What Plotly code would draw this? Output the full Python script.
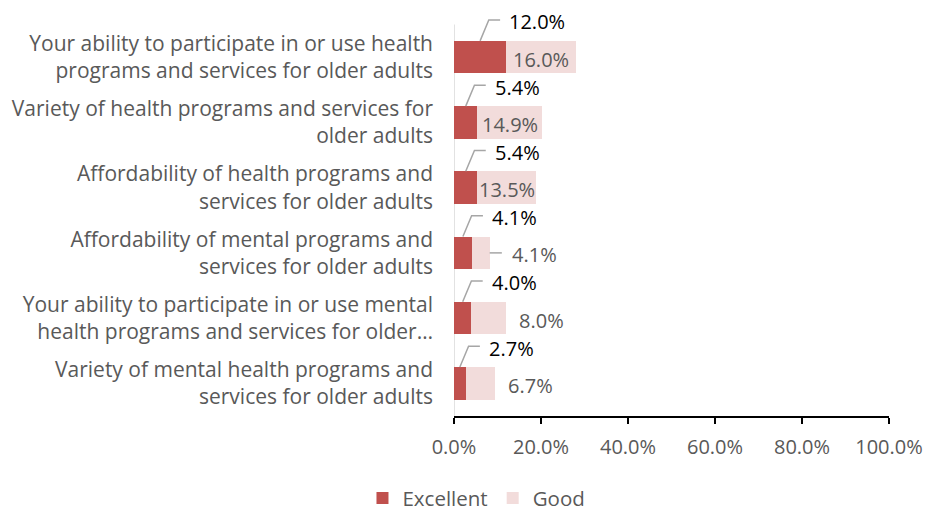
import plotly.graph_objects as go

# Survey items, listed top to bottom as they appear on the chart
categories = [
    "Your ability to participate in or use health<br>programs and services for older adults",
    "Variety of health programs and services for<br>older adults",
    "Affordability of health programs and<br>services for older adults",
    "Affordability of mental programs and<br>services for older adults",
    "Your ability to participate in or use mental<br>health programs and services for older…",
    "Variety of mental health programs and<br>services for older adults",
]
excellent = [12.0, 5.4, 5.4, 4.1, 4.0, 2.7]
good = [16.0, 14.9, 13.5, 4.1, 8.0, 6.7]
x_ticks = [0, 20, 40, 60, 80, 100]
x_tick_labels = ["0.0%", "20.0%", "40.0%", "60.0%", "80.0%", "100.0%"]

RED = "#C0504D"
PINK = "#F2DCDB"
GREY_TEXT = "#595959"
LEADER = "#A6A6A6"
FONT = "Open Sans"

rows = list(range(len(categories)))
BAR_W = 0.5
# extra headroom above the first row for its callout label
Y_TOP = -0.876

fig = go.Figure()
fig.add_trace(go.Bar(
    name="Excellent", y=rows, x=excellent, orientation="h",
    marker=dict(color=RED, line=dict(width=0)), width=BAR_W,
    hoverinfo="x",
))
fig.add_trace(go.Bar(
    name="Good", y=rows, x=good, orientation="h",
    marker=dict(color=PINK, line=dict(width=0)), width=BAR_W,
    hoverinfo="x",
))

# vertical category axis line, spanning only the category rows
shapes = [dict(
    type="line", xref="x", yref="y", x0=0, x1=0,
    y0=-0.5, y1=len(categories) - 0.5,
    line=dict(color="#D9D9D9", width=1.5), layer="below",
)]
annotations = []
for i, (e, g) in enumerate(zip(excellent, good)):
    # Excellent value: callout above the bar with an elbow leader line
    top = i - BAR_W / 2
    elbow_y = i - 0.57
    x0 = e / 2
    shapes.append(dict(
        type="path", xref="x", yref="y",
        path=f"M {x0},{top} L {x0 + 2},{elbow_y} L {x0 + 4.6},{elbow_y}",
        line=dict(color=LEADER, width=1.5),
    ))
    annotations.append(dict(
        x=x0 + 6.2, y=elbow_y + 0.03, xref="x", yref="y",
        text=f"{e:.1f}%", showarrow=False, xanchor="left", yanchor="middle",
        font=dict(family=FONT, size=20, color="#000000"),
    ))
    # Good value: centred in the segment when it fits, otherwise just past it
    end = e + g
    if g >= 10:
        gx, anchor = e + g / 2, "center"
    elif g < 5:
        shapes.append(dict(
            type="line", xref="x", yref="y",
            x0=end, x1=end + 2.8, y0=i, y1=i,
            line=dict(color=LEADER, width=1.5),
        ))
        gx, anchor = end + 4.7, "left"
    else:
        gx, anchor = end + 2.5, "left"
    annotations.append(dict(
        x=gx, y=i + 0.03, xref="x", yref="y",
        text=f"{g:.1f}%", showarrow=False, xanchor=anchor, yanchor="middle",
        font=dict(family=FONT, size=20, color=GREY_TEXT),
    ))

fig.update_layout(
    barmode="stack",
    width=927, height=512,
    margin=dict(l=454, r=38, t=0, b=96.4),
    paper_bgcolor="white", plot_bgcolor="white",
    font=dict(family=FONT, size=20, color=GREY_TEXT),
    showlegend=True,
    legend=dict(
        orientation="h", xref="container", yref="container",
        x=0.514, y=0.027, xanchor="center", yanchor="middle",
        font=dict(family=FONT, size=20.5, color=GREY_TEXT),
        itemwidth=30, traceorder="normal",
    ),
    shapes=shapes,
    annotations=annotations,
    bargap=0.5,
)
fig.update_xaxes(
    range=[0, 100], tickvals=x_ticks, ticktext=x_tick_labels,
    showgrid=False, zeroline=False,
    showline=True, linecolor="#000000", linewidth=1.5,
    ticks="outside", ticklen=6, tickcolor="#000000", tickwidth=1.5,
    ticklabelstandoff=6,
    tickfont=dict(family=FONT, size=20, color=GREY_TEXT),
)
fig.update_yaxes(
    range=[len(categories) - 0.5, Y_TOP],
    tickvals=rows, ticktext=categories,
    showgrid=False, zeroline=False, showline=False,
    ticks="", ticklabelstandoff=20,
    tickfont=dict(family=FONT, size=21, color=GREY_TEXT),
)

fig.write_html("out.html")
